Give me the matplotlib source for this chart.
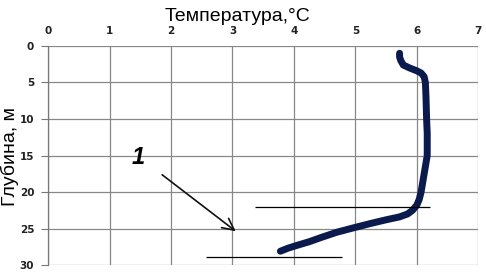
import matplotlib
matplotlib.use('Agg')
import matplotlib.pyplot as plt

# Глубина (м) и температура (°C) вдоль профиля
glubina = [1.0, 1.5, 2.0, 2.6, 3.0, 3.4, 3.7, 4.2, 5.0, 7.0, 10.0, 12.0, 15.0,
           17.0, 19.0, 20.0, 21.0, 21.8, 22.5, 23.0, 23.4, 23.8, 24.3, 24.9,
           25.5, 26.2, 26.8, 27.3, 27.7, 28.1]
temperatura = [5.72, 5.72, 5.74, 5.78, 5.88, 6.00, 6.07, 6.12, 6.14, 6.15, 6.16,
               6.17, 6.17, 6.13, 6.09, 6.07, 6.04, 6.00, 5.93, 5.85, 5.72, 5.50,
               5.25, 4.97, 4.70, 4.45, 4.25, 4.05, 3.90, 3.78]

x_ticks = [0, 1, 2, 3, 4, 5, 6, 7]
y_ticks = [0, 5, 10, 15, 20, 25, 30]

# Линии-отметки и стрелка с подписью "1"
linia_verh = (22.0, 3.37, 6.22)
linia_niz = (28.9, 2.57, 4.79)
strelka_start = (1.82, 17.4)
strelka_konec = (3.09, 25.6)
podpis = (1.47, 15.3, '1')

fig = plt.figure(figsize=(4.86, 2.77), dpi=100)
ax = fig.add_axes([0.099, 0.043, 0.885, 0.791])

ax.plot(temperatura, glubina, color='#0b1a4c', linewidth=5,
        solid_capstyle='round', solid_joinstyle='round', zorder=3)

ax.hlines(linia_verh[0], linia_verh[1], linia_verh[2], color='black', linewidth=0.9, zorder=4)
ax.hlines(linia_niz[0], linia_niz[1], linia_niz[2], color='black', linewidth=0.9, zorder=4)
ax.annotate('', xy=strelka_konec, xytext=strelka_start,
            arrowprops=dict(arrowstyle='->, head_length=0.6, head_width=0.3',
                            color='#111111', lw=1.2, mutation_scale=14))
ax.text(podpis[0], podpis[1], podpis[2], fontsize=17, fontstyle='italic',
        fontweight='bold', family='Liberation Sans', ha='center', va='center')

ax.set_xlim(0, 7)
ax.set_ylim(30, 0)
ax.set_xticks(x_ticks)
ax.set_yticks(y_ticks)
ax.xaxis.tick_top()
ax.tick_params(axis='x', length=0, pad=7, labelsize=7.5)
ax.tick_params(axis='y', length=5, width=0.8, color='#777777', pad=5, labelsize=7.5)
for lbl in ax.get_xticklabels() + ax.get_yticklabels():
    lbl.set_fontweight('bold')
    lbl.set_color('#222222')

ax.grid(True, color='#888888', linewidth=0.9)
for s in ['top', 'right', 'bottom']:
    ax.spines[s].set_visible(False)
ax.spines['left'].set_color('#777777')
ax.spines['left'].set_linewidth(0.9)

fig.text(0.488, 0.94, 'Температура,°С', fontsize=14, family='Liberation Sans',
         ha='center', va='center')
fig.text(0.02, 0.435, 'Глубина, м', fontsize=14, family='Liberation Sans',
         rotation=90, ha='center', va='center')

plt.savefig('out.png', dpi=100)
plt.close()
